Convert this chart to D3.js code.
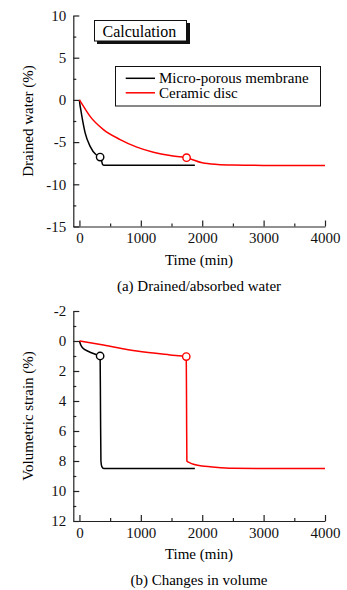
<!DOCTYPE html>
<html>
<head>
<meta charset="utf-8">
<script src="https://cdn.jsdelivr.net/npm/d3@7"></script>
<style>
  body { margin: 0; background: #fff; }
  svg text { font-family: "Liberation Serif", "Times New Roman", serif !important; }
  .axis path, .axis line { stroke: #222; stroke-width: 1.2; }
  .axis text { font-size: 15px; fill: #111; }
</style>
</head>
<body>
<div id="chart"></div>
<script>
// series names
const seriesNames = ["Micro-porous membrane", "Ceramic disc"];
const seriesColors = ["#000000", "#ff0000"];

// (a) drained water (%) vs time (min)
const timeMembraneA = [0, 8, 22, 40, 93, 174, 272, 337, 360, 375, 400, 1880];
const drainedMembrane = [0, -0.55, -1.15, -1.95, -3.9, -5.5, -6.5, -6.77, -7.2, -7.6, -7.75, -7.75];
const timeDiscA = [0, 100, 174, 391, 663, 935, 1205, 1477, 1745, 2000, 2250, 2500, 3000, 4000];
const drainedDisc = [0, -1.15, -1.95, -3.52, -4.7, -5.6, -6.2, -6.6, -6.85, -7.45, -7.65, -7.72, -7.76, -7.76];
const markTimeA = [337, 1745];
const markDrained = [-6.77, -6.85];

// (b) volumetric strain (%) vs time (min)
const timeMembraneB = [0, 20, 50, 150, 260, 337, 343, 350, 365, 395, 450, 1880];
const strainMembrane = [0, 0.25, 0.45, 0.7, 0.88, 1.0, 4.5, 8.0, 8.38, 8.5, 8.5, 8.5];
const timeDiscB = [0, 391, 935, 1477, 1740, 1745, 1750, 1800, 1857, 2000, 2130, 2500, 3000, 4000];
const strainDisc = [0, 0.27, 0.67, 0.93, 1.04, 4.5, 8.0, 8.12, 8.22, 8.33, 8.38, 8.49, 8.5, 8.5];
const markTimeB = [337, 1740];
const markStrain = [1.0, 1.04];

// ticks
const xTicks = [0, 1000, 2000, 3000, 4000];
const xMinor = [500, 1500, 2500, 3500];
const yTicksA = [-15, -10, -5, 0, 5, 10];
const yMinorA = [-12.5, -7.5, -2.5, 2.5, 7.5];
const yTicksB = [-2, 0, 2, 4, 6, 8, 10, 12];
const yMinorB = [-1, 1, 3, 5, 7, 9, 11];

const W = 347, H = 590;
const FONT = "Liberation Serif, Times New Roman, serif";
const svg = d3.select("#chart").append("svg")
  .attr("width", W).attr("height", H)
  .attr("font-family", FONT);

function zip(a, b) { return a.map((d, i) => [d, b[i]]); }

function panel(cfg) {
  const x = d3.scaleLinear().domain([-100, 4000]).range([73.3, 325]);
  const y = d3.scaleLinear().domain(cfg.yDomain).range([cfg.bottom, cfg.top]);

  const g = svg.append("g");

  // y axis
  g.append("g").attr("class", "axis")
    .attr("transform", "translate(" + x(-100) + ",0)")
    .call(d3.axisLeft(y).tickValues(cfg.yTicks).tickSizeInner(-6).tickSizeOuter(0)
      .tickPadding(7).tickFormat(d => String(d)))
    .attr("font-family", FONT).attr("font-size", 15);
  g.append("g").attr("class", "axis")
    .attr("transform", "translate(" + x(-100) + ",0)")
    .call(d3.axisLeft(y).tickValues(cfg.yMinor).tickSizeInner(-3).tickSizeOuter(0).tickFormat(""))
    .select(".domain").remove();

  // x axis
  g.append("g").attr("class", "axis")
    .attr("transform", "translate(0," + cfg.bottom + ")")
    .call(d3.axisBottom(x).tickValues(xTicks).tickSizeInner(-6).tickSizeOuter(0)
      .tickPadding(6).tickFormat(d => String(d)))
    .attr("font-family", FONT).attr("font-size", 15);
  g.append("g").attr("class", "axis")
    .attr("transform", "translate(0," + cfg.bottom + ")")
    .call(d3.axisBottom(x).tickValues(xMinor).tickSizeInner(-3).tickSizeOuter(0).tickFormat(""))
    .select(".domain").remove();

  const line = d3.line().x(d => x(d[0])).y(d => y(d[1])).curve(d3.curveMonotoneX);

  cfg.series.forEach((s, i) => {
    g.append("path")
      .attr("d", line(s))
      .attr("fill", "none")
      .attr("stroke", seriesColors[i])
      .attr("stroke-width", 1.5);
  });

  g.selectAll("circle.mark")
    .data(cfg.marks)
    .enter().append("circle")
    .attr("class", "mark")
    .attr("cx", d => x(d[0]))
    .attr("cy", d => y(d[1]))
    .attr("r", 3.7)
    .attr("fill", "#fff")
    .attr("stroke", (d, i) => seriesColors[i])
    .attr("stroke-width", 1.4);

  // axis titles
  g.append("text")
    .attr("transform", "translate(28," + ((cfg.top + cfg.bottom) / 2) + ") rotate(-90)")
    .attr("text-anchor", "middle").attr("dy", "0.35em")
    .attr("font-size", 15)
    .text(cfg.yTitle);
  g.append("text")
    .attr("x", 199).attr("y", cfg.bottom + 38)
    .attr("text-anchor", "middle").attr("font-size", 15)
    .text("Time (min)");
  g.append("text")
    .attr("x", 199).attr("y", cfg.bottom + 64)
    .attr("text-anchor", "middle").attr("font-size", 15)
    .text(cfg.caption);
}

panel({
  top: 15.5, bottom: 226.5, yDomain: [-15, 10],
  yTicks: yTicksA, yMinor: yMinorA,
  series: [zip(timeMembraneA, drainedMembrane), zip(timeDiscA, drainedDisc)],
  marks: zip(markTimeA, markDrained),
  yTitle: "Drained water (%)",
  caption: "(a) Drained/absorbed water"
});

panel({
  top: 311, bottom: 521, yDomain: [12, -2],
  yTicks: yTicksB, yMinor: yMinorB,
  series: [zip(timeMembraneB, strainMembrane), zip(timeDiscB, strainDisc)],
  marks: zip(markTimeB, markStrain),
  yTitle: "Volumetric strain (%)",
  caption: "(b) Changes in volume"
});

// "Calculation" label box with shadow
svg.append("rect").attr("x", 97).attr("y", 23).attr("width", 93).attr("height", 21).attr("fill", "#111");
svg.append("rect").attr("x", 94.5).attr("y", 20.5).attr("width", 92).attr("height", 20.5)
  .attr("fill", "#fff").attr("stroke", "#111").attr("stroke-width", 1);
svg.append("text").attr("x", 102.5).attr("y", 36.5).attr("font-size", 16).text("Calculation");

// legend
const lg = svg.append("g");
lg.append("rect").attr("x", 115.5).attr("y", 66.5).attr("width", 205).attr("height", 39.5)
  .attr("fill", "#fff").attr("stroke", "#111").attr("stroke-width", 1);
seriesNames.forEach((name, i) => {
  const yy = 78.3 + i * 14.5;
  lg.append("line").attr("x1", 125.7).attr("x2", 155).attr("y1", yy).attr("y2", yy)
    .attr("stroke", seriesColors[i]).attr("stroke-width", 1.5);
  lg.append("text").attr("x", 159).attr("y", yy + 5).attr("font-size", 15).text(name);
});
</script>
</body>
</html>
